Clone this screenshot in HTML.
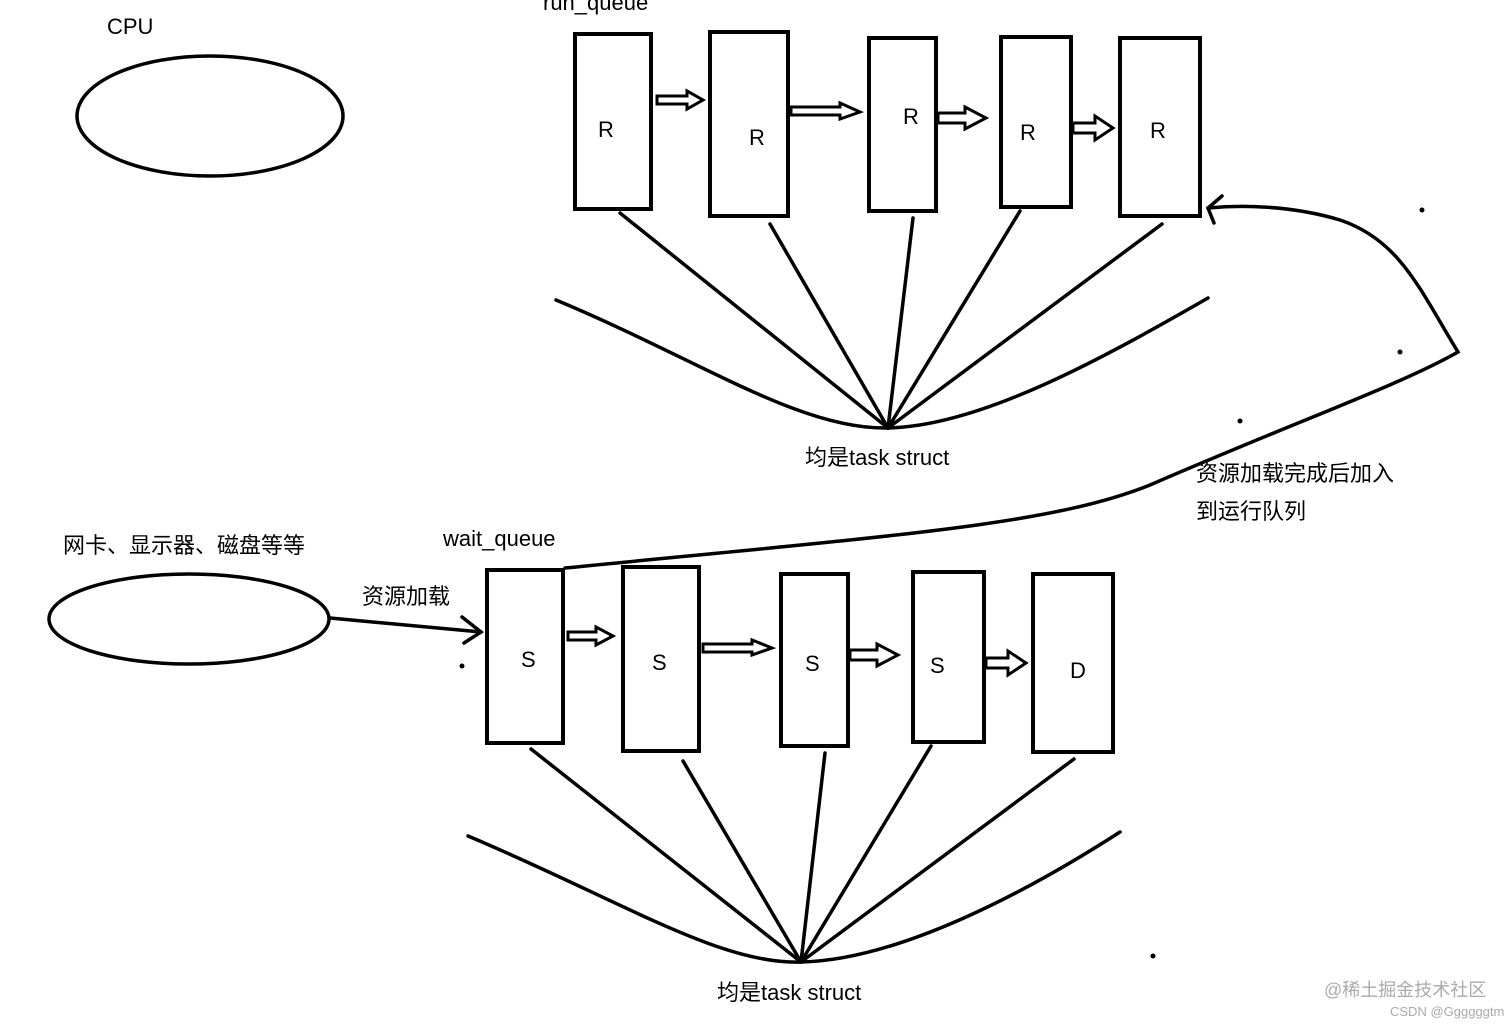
<!DOCTYPE html>
<html><head><meta charset="utf-8"><style>
html,body{margin:0;padding:0;background:#fff;}
svg{display:block}
text{font-family:"Liberation Sans","Noto Sans CJK SC",sans-serif;fill:#000}
</style></head><body>
<svg width="1512" height="1027" viewBox="0 0 1512 1027" xmlns="http://www.w3.org/2000/svg">
<g fill="none" stroke="#000" stroke-width="4">
<ellipse cx="210" cy="116" rx="133" ry="60" stroke-width="3.5"/>
<ellipse cx="189" cy="619" rx="140" ry="45" stroke-width="3.5"/>
<rect x="575" y="34" width="76" height="175"/>
<rect x="710" y="32" width="78" height="184"/>
<rect x="869" y="38" width="67" height="173"/>
<rect x="1001" y="37" width="70" height="170"/>
<rect x="1120" y="38" width="80" height="178"/>
<rect x="487" y="570" width="76" height="173"/>
<rect x="623" y="567" width="76" height="184"/>
<rect x="781" y="574" width="67" height="172"/>
<rect x="913" y="572" width="71" height="170"/>
<rect x="1033" y="574" width="80" height="178"/>
</g>
<g fill="none" stroke="#000" stroke-width="3" stroke-linejoin="miter">
<polygon points="657,96 687,96 687,91 703,100 687,109 687,104 657,104"/>
<polygon points="791,107 840,107 840,103 860,112 840,119 840,115 791,115"/>
<polygon points="938,113 965,113 965,107 986,118 965,129 965,123 938,123"/>
<polygon points="1073,123 1095,123 1095,116 1113,128 1095,140 1095,133 1073,133"/>
<polygon points="568,632 596,632 596,627 613,636 596,645 596,640 568,640"/>
<polygon points="703,644 752,644 752,640 772,648 752,655 752,652 703,652"/>
<polygon points="850,650 877,650 877,644 898,655 877,666 877,660 850,660"/>
<polygon points="986,658 1008,658 1008,651 1026,663 1008,675 1008,668 986,668"/>
</g>
<g fill="none" stroke="#000" stroke-width="3.5" stroke-linecap="round">
<line x1="620" y1="213" x2="888" y2="428"/>
<line x1="770" y1="224" x2="888" y2="428"/>
<line x1="913" y1="218" x2="888" y2="428"/>
<line x1="1020" y1="211" x2="888" y2="428"/>
<line x1="1162" y1="224" x2="888" y2="428"/>
<path d="M556,300 C700,360 800,430 888,428 C980,426 1100,360 1208,298"/>
<line x1="531" y1="749" x2="801" y2="962"/>
<line x1="683" y1="761" x2="801" y2="962"/>
<line x1="825" y1="753" x2="801" y2="962"/>
<line x1="931" y1="746" x2="801" y2="962"/>
<line x1="1074" y1="759" x2="801" y2="962"/>
<path d="M468,836 C620,900 720,965 801,962 C900,960 1030,890 1120,832"/>
<path d="M565,568 C900,535 1050,525 1150,485 C1300,420 1400,385 1458,352 C1420,290 1400,240 1340,220 C1290,205 1240,205 1208,208"/>
<path d="M1222,196 L1208,208 L1214,223"/>
<path d="M330,618 L481,632"/>
<path d="M462,617 L481,632 L464,643"/>
</g>
<g fill="#000">
<circle cx="1422" cy="210" r="2.5"/><circle cx="1400" cy="352" r="2.5"/><circle cx="1240" cy="421" r="2.5"/>
<circle cx="462" cy="666" r="2.5"/><circle cx="1153" cy="956" r="2.5"/>
</g>
<g font-size="22">
<text x="107" y="34">CPU</text>
<text x="543" y="10">run_queue</text>
<text x="598" y="137">R</text><text x="749" y="145">R</text><text x="903" y="124">R</text>
<text x="1020" y="140">R</text><text x="1150" y="138">R</text>
<text x="521" y="667">S</text><text x="652" y="670">S</text><text x="805" y="671">S</text>
<text x="930" y="673">S</text><text x="1070" y="678">D</text>
<text x="805" y="465">均是task  struct</text>
<text x="717" y="1000">均是task  struct</text>
<text x="443" y="546">wait_queue</text>
<text x="63" y="553">网卡、显示器、磁盘等等</text>
<text x="362" y="604">资源加载</text>
<text x="1196" y="481">资源加载完成后加入</text>
<text x="1196" y="519">到运行队列</text>
</g>
<text x="1324" y="996" font-size="18" style="fill:#aaa">@稀土掘金技术社区</text>
<text x="1390" y="1016" font-size="13" style="fill:#aaa">CSDN @Ggggggtm</text>
</svg>
</body></html>
